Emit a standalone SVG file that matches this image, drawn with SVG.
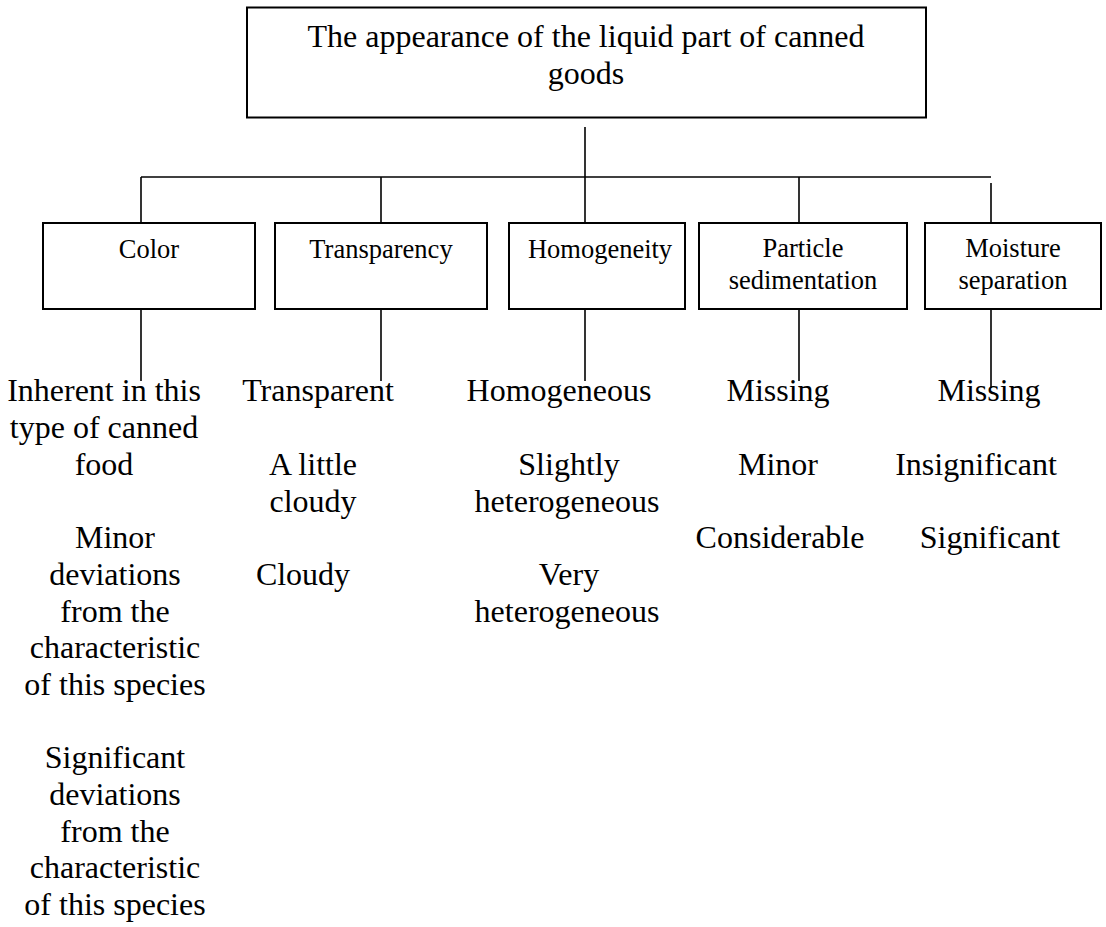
<svg xmlns="http://www.w3.org/2000/svg" width="1106" height="927" viewBox="0 0 1106 927">
  <style>
    .box { fill: #ffffff; stroke: #000000; stroke-width: 2; }
    .wire { stroke: #000000; stroke-width: 1.6; fill: none; }
    .title { font-family: "Liberation Serif", "Times New Roman", serif; font-size: 32px; fill: #000000; text-anchor: middle; }
    .label { font-family: "Liberation Serif", "Times New Roman", serif; font-size: 26.5px; fill: #000000; text-anchor: middle; }
    .value { font-family: "Liberation Serif", "Times New Roman", serif; font-size: 32px; fill: #000000; text-anchor: middle; }
  </style>
  <rect width="1106" height="927" fill="#ffffff"/>

  <!-- connectors: trunk, bus, drops to boxes, drops to value lists -->
  <g id="connectors">
    <line class="wire" x1="585" y1="127" x2="585" y2="223"/>
    <line class="wire" x1="141" y1="177" x2="991" y2="177"/>
    <line class="wire" x1="141" y1="177" x2="141" y2="223"/>
    <line class="wire" x1="381" y1="177" x2="381" y2="223"/>
    <line class="wire" x1="799" y1="177" x2="799" y2="223"/>
    <line class="wire" x1="991" y1="183" x2="991" y2="223"/>
    <line class="wire" x1="141" y1="309" x2="141" y2="381"/>
    <line class="wire" x1="381" y1="309" x2="381" y2="381"/>
    <line class="wire" x1="585" y1="309" x2="585" y2="381"/>
    <line class="wire" x1="799" y1="309" x2="799" y2="381"/>
    <line class="wire" x1="991" y1="309" x2="991" y2="388"/>
  </g>

  <g id="root">
    <rect class="box" x="247" y="7.5" width="679" height="110"/>
    <text class="title" x="586" y="47">The appearance of the liquid part of canned</text>
    <text class="title" x="586" y="83.5">goods</text>
  </g>

  <g id="color">
    <rect class="box" x="43" y="223" width="212" height="86"/>
    <text class="label" x="149" y="258">Color</text>
  </g>
  <g id="transparency">
    <rect class="box" x="275" y="223" width="212" height="86"/>
    <text class="label" x="381" y="258">Transparency</text>
  </g>
  <g id="homogeneity">
    <rect class="box" x="509" y="223" width="176" height="86"/>
    <text class="label" x="600" y="258">Homogeneity</text>
  </g>
  <g id="sedimentation">
    <rect class="box" x="699" y="223" width="208" height="86"/>
    <text class="label" x="803" y="257">Particle</text>
    <text class="label" x="803" y="289">sedimentation</text>
  </g>
  <g id="separation">
    <rect class="box" x="925" y="223" width="176" height="86"/>
    <text class="label" x="1013" y="257">Moisture</text>
    <text class="label" x="1013" y="289">separation</text>
  </g>

  <g id="color-values">
    <text class="value" x="104" y="401">Inherent in this</text>
    <text class="value" x="104" y="438">type of canned</text>
    <text class="value" x="104" y="475">food</text>
    <text class="value" x="115" y="548">Minor</text>
    <text class="value" x="115" y="585">deviations</text>
    <text class="value" x="115" y="622">from the</text>
    <text class="value" x="115" y="658">characteristic</text>
    <text class="value" x="115" y="695">of this species</text>
    <text class="value" x="115" y="768">Significant</text>
    <text class="value" x="115" y="805">deviations</text>
    <text class="value" x="115" y="842">from the</text>
    <text class="value" x="115" y="878">characteristic</text>
    <text class="value" x="115" y="915">of this species</text>
  </g>

  <g id="transparency-values">
    <text class="value" x="318" y="401">Transparent</text>
    <text class="value" x="313" y="475">A little</text>
    <text class="value" x="313" y="512">cloudy</text>
    <text class="value" x="303" y="585">Cloudy</text>
  </g>

  <g id="homogeneity-values">
    <text class="value" x="559" y="401">Homogeneous</text>
    <text class="value" x="569" y="475">Slightly</text>
    <text class="value" x="567" y="512">heterogeneous</text>
    <text class="value" x="569" y="585">Very</text>
    <text class="value" x="567" y="622">heterogeneous</text>
  </g>

  <g id="sedimentation-values">
    <text class="value" x="778" y="401">Missing</text>
    <text class="value" x="778" y="475">Minor</text>
    <text class="value" x="780" y="548">Considerable</text>
  </g>

  <g id="separation-values">
    <text class="value" x="989" y="401">Missing</text>
    <text class="value" x="976" y="475">Insignificant</text>
    <text class="value" x="990" y="548">Significant</text>
  </g>
</svg>
